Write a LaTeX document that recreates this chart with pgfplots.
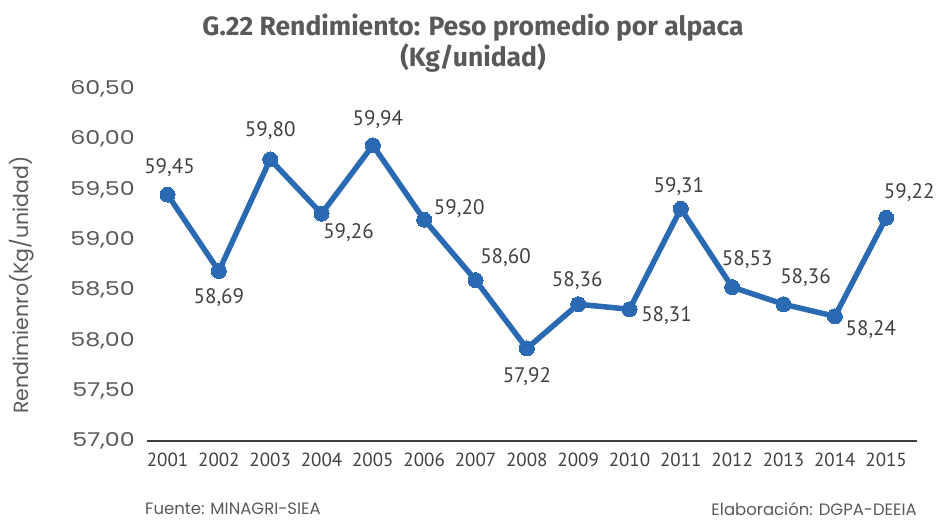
\documentclass[border=0pt]{standalone}
\usepackage{pgfplots}
\pgfplotsset{compat=1.18}
\usepackage{pgfplotstable}
\usepackage{fontspec}
\setmainfont{PT Sans}
\newfontfamily\tickfont{Poppins}
\newfontfamily\titlefont{Fira Sans}
\definecolor{lineblue}{HTML}{2A6AB3}
\definecolor{txt}{HTML}{404040}
\definecolor{ticktxt}{HTML}{595959}
\newcommand{\yt}[1]{\scalebox{1.25}[1]{#1}}

\pgfplotstableread{
year val dx dy lab
2001 59.45 2 27 59,45
2002 58.69 0 -27 58,69
2003 59.80 0 29 59,80
2004 59.26 27 -19 59,26
2005 59.94 5 26 59,94
2006 59.20 35 11 59,20
2007 58.60 30 22 58,60
2008 57.92 0 -28 57,92
2009 58.36 -1 24 58,36
2010 58.31 37 -6 58,31
2011 59.31 -2 22 59,31
2012 58.53 15 28 58,53
2013 58.36 22 27 58,36
2014 58.24 36 -13 58,24
2015 59.22 23 25 59,22
}\datatable

\begin{document}
\begin{tikzpicture}[x=1pt,y=1pt]
\useasboundingbox (0,0) rectangle (938,520);
\begin{axis}[
  at={(147pt,79pt)}, anchor=south west,
  scale only axis, width=770pt, height=352pt,
  xmin=2000.6, xmax=2015.6,
  ymin=57, ymax=60.5,
  axis x line=bottom, axis y line=left,
  axis line style={-},
  x axis line style={draw=txt, line width=1.6pt},
  y axis line style={draw=none},
  major tick length=0pt,
  xtick={2001,...,2015},
  xticklabels={2001,2002,2003,2004,2005,2006,2007,2008,2009,2010,2011,2012,2013,2014,2015},
  ytick={57,57.5,...,60.5},
  yticklabels={\yt{57,00},\yt{57,50},\yt{58,00},\yt{58,50},\yt{59,00},\yt{59,50},\yt{60,00},\yt{60,50}},
  xticklabel style={font=\fontsize{19}{21}\selectfont, text=txt, inner sep=0pt, yshift=-12pt, anchor=north},
  yticklabel style={font=\tickfont\fontsize{19}{22}\selectfont, text=ticktxt, inner sep=0pt, xshift=-12pt, anchor=east},
  clip=false,
]
\addplot[color=lineblue, line width=5.5pt, mark=*, mark size=7.5pt,
  mark options={fill=lineblue, draw=lineblue, line width=0pt},
  visualization depends on={\thisrow{dx} \as \mydx},
  visualization depends on={\thisrow{dy} \as \mydy},
  point meta=explicit symbolic,
  nodes near coords={\pgfplotspointmeta},
  nodes near coords style={anchor=center, xshift=\mydx pt, yshift=\mydy pt,
    font=\fontsize{21}{23}\selectfont, text=txt, inner sep=0pt},
] table[x=year, y=val, meta=lab] {\datatable};
\end{axis}
\node[font=\titlefont\bfseries\fontsize{26.5}{29}\selectfont, text=ticktxt] at (473,492) {G.22 Rendimiento: Peso promedio por alpaca};
\node[font=\titlefont\bfseries\fontsize{26.5}{29}\selectfont, text=ticktxt] at (473,462) {(Kg/unidad)};
\node[rotate=90, font=\tickfont\fontsize{20.5}{23}\selectfont, text=ticktxt] at (22,235) {Rendimienro(Kg/unidad)};
\node[anchor=west, font=\tickfont\fontsize{16.5}{18}\selectfont, text=ticktxt, inner sep=0pt] at (145,11) {Fuente: MINAGRI-SIEA};
\node[anchor=east, font=\tickfont\fontsize{16.5}{18}\selectfont, text=ticktxt, inner sep=0pt] at (917,11) {Elaboración: DGPA-DEEIA};
\end{tikzpicture}
\end{document}
